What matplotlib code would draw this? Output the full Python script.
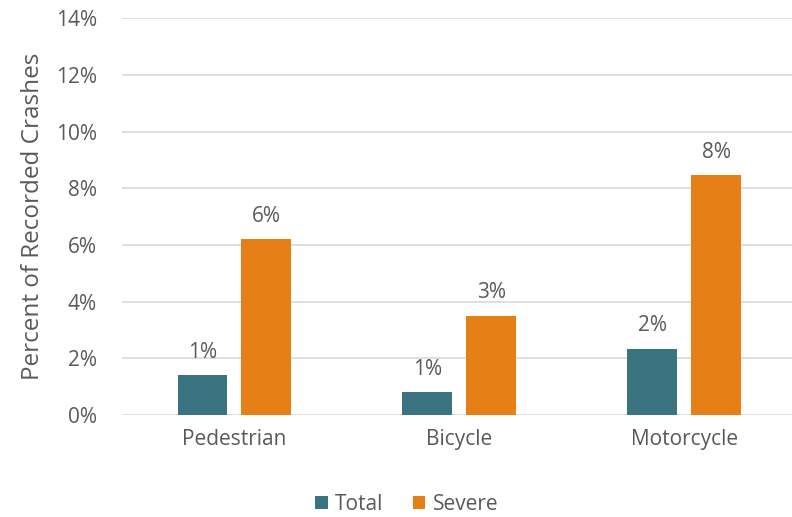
import matplotlib.pyplot as plt
import numpy as np

categories = ['Pedestrian', 'Bicycle', 'Motorcycle']
total = [1.4, 0.8, 2.35]
severe = [6.2, 3.5, 8.45]
total_labels = ['1%', '1%', '2%']
severe_labels = ['6%', '3%', '8%']
yticks = [0, 2, 4, 6, 8, 10, 12, 14]

plt.rcParams['font.family'] = ['Open Sans', 'DejaVu Sans']
txt = '#595959'
fs = 15

fig = plt.figure(figsize=(7.92, 5.17), dpi=100)
ax = fig.add_axes([0.154, 0.197, 0.852, 0.768])

x = np.arange(len(categories))
w = 0.222
off = 0.142
b1 = ax.bar(x - off, total, w, color='#3A7480', label='Total', zorder=3)
b2 = ax.bar(x + off, severe, w, color='#E77F17', label='Severe', zorder=3)

for rect, lab in zip(b1, total_labels):
    ax.text(rect.get_x() + rect.get_width() / 2, rect.get_height() + 0.45, lab,
            ha='center', va='bottom', fontsize=fs, color=txt)
for rect, lab in zip(b2, severe_labels):
    ax.text(rect.get_x() + rect.get_width() / 2, rect.get_height() + 0.45, lab,
            ha='center', va='bottom', fontsize=fs, color=txt)

ax.set_xlim(-0.5, 2.5)
ax.set_ylim(0, 14)
ax.set_yticks(yticks)
ax.set_yticklabels([f'{t}%' for t in yticks])
ax.set_xticks(x)
ax.set_xticklabels(categories)
ax.tick_params(axis='both', length=0, labelsize=fs, colors=txt)
ax.tick_params(axis='x', pad=10)
ax.tick_params(axis='y', pad=18)
ax.yaxis.grid(True, color='#D9D9D9', linewidth=1.2, zorder=0)
for s in ax.spines.values():
    s.set_visible(False)
ax.set_ylabel('Percent of Recorded Crashes', fontsize=17.5, color=txt, labelpad=8)

ax.legend(loc='center', bbox_to_anchor=(0.422, -0.225), ncol=2, frameon=False,
          fontsize=fs, labelcolor=txt, handlelength=0.6, handleheight=0.6,
          columnspacing=1.4, handletextpad=0.35)

fig.savefig('out.png', dpi=100)
